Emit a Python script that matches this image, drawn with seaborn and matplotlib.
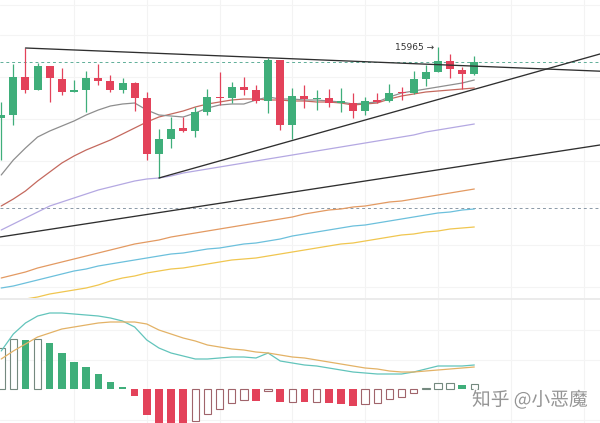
import numpy as np
import pandas as pd
import matplotlib
matplotlib.use("Agg")
import matplotlib.pyplot as plt
import matplotlib.patheffects as pe
import seaborn as sns

# ---------------- data ----------------
opens  = [15255, 15285, 15665, 15535, 15775, 15645, 15515, 15535, 15655, 15625,
          15535, 15605, 15455, 14895, 15045, 15155, 15125, 15315, 15465, 15455,
          15565, 15535, 15425, 15835, 15185, 15475, 15445, 15455, 15405, 15405,
          15325, 15435, 15425, 15515, 15505, 15645, 15715, 15825, 15735, 15695]
highs  = [15415, 15795, 15955, 15805, 15775, 15755, 15635, 15725, 15795, 15685,
          15655, 15615, 15515, 15145, 15265, 15265, 15365, 15545, 15715, 15615,
          15665, 15585, 15855, 15835, 15555, 15585, 15535, 15545, 15555, 15505,
          15465, 15505, 15595, 15565, 15725, 15785, 15965, 15895, 15765, 15875]
lows   = [14835, 15185, 15505, 15535, 15415, 15485, 15515, 15315, 15585, 15515,
          15505, 15325, 14835, 14655, 14955, 15115, 15065, 15285, 15385, 15405,
          15485, 15405, 15305, 15135, 15045, 15355, 15335, 15365, 15315, 15255,
          15285, 15405, 15415, 15435, 15495, 15575, 15715, 15655, 15545, 15685]
closes = [15285, 15665, 15535, 15775, 15655, 15515, 15535, 15655, 15625, 15535,
          15605, 15455, 14895, 15045, 15145, 15125, 15315, 15465, 15455, 15565,
          15535, 15425, 15835, 15185, 15475, 15445, 15455, 15405, 15425, 15325,
          15425, 15415, 15505, 15505, 15645, 15715, 15825, 15745, 15695, 15815]

ma_grey   = [14685, 14835, 14955, 15065, 15125, 15175, 15225, 15285, 15335, 15375,
             15395, 15405, 15335, 15285, 15275, 15265, 15305, 15355, 15385, 15395,
             15395, 15435, 15465, 15445, 15445, 15435, 15435, 15425, 15415, 15395,
             15405, 15415, 15465, 15505, 15525, 15545, 15565, 15585, 15605, 15635]
ma_red    = [14375, 14445, 14525, 14625, 14715, 14805, 14875, 14935, 14985, 15035,
             15095, 15155, 15215, 15265, 15295, 15325, 15365, 15395, 15415, 15435,
             15445, 15445, 15435, 15435, 15425, 15425, 15415, 15415, 15405, 15385,
             15395, 15405, 15445, 15475, 15495, 15515, 15525, 15535, 15545, 15555]
ma_purple = [14135, 14195, 14255, 14315, 14375, 14415, 14455, 14495, 14535, 14565,
             14595, 14625, 14645, 14655, 14675, 14705, 14725, 14745, 14765, 14785,
             14805, 14825, 14845, 14865, 14885, 14905, 14925, 14945, 14965, 14985,
             15005, 15025, 15045, 15065, 15085, 15115, 15135, 15155, 15175, 15195]
ma_orange = [13655, 13685, 13715, 13755, 13785, 13815, 13845, 13875, 13905, 13935,
             13965, 13995, 14015, 14035, 14065, 14085, 14105, 14125, 14145, 14165,
             14185, 14205, 14225, 14245, 14265, 14295, 14315, 14335, 14345, 14365,
             14375, 14395, 14415, 14425, 14445, 14465, 14485, 14505, 14525, 14545]
ma_blue   = [13555, 13575, 13605, 13635, 13665, 13695, 13725, 13745, 13775, 13795,
             13815, 13835, 13855, 13875, 13895, 13905, 13925, 13945, 13955, 13975,
             13995, 14005, 14025, 14045, 14075, 14095, 14115, 14135, 14155, 14175,
             14185, 14205, 14225, 14245, 14265, 14285, 14305, 14315, 14335, 14345]
ma_yellow = [13385, 13415, 13445, 13465, 13495, 13515, 13535, 13555, 13585, 13625,
             13655, 13675, 13705, 13725, 13745, 13755, 13775, 13795, 13815, 13835,
             13845, 13855, 13875, 13895, 13915, 13935, 13955, 13975, 13995, 14005,
             14025, 14045, 14065, 14085, 14095, 14115, 14125, 14145, 14155, 14165]

# trend lines (index, price) endpoints
trend_a_x, trend_a_y = [2, 50], [15955, 15720]
trend_b_x, trend_b_y = [13, 50], [14655, 15917]
trend_c_x, trend_c_y = [-0.1, 50], [14065, 14997]
level_high = 15815
level_low = 14355
peak_label = "15965 →"
peak_index, peak_price = 36, 15965

# MACD
dif = [76, 110, 132, 146, 152, 152, 150, 148, 146, 142,
       136, 124, 98, 82, 72, 66, 60, 60, 62, 64,
       64, 62, 72, 56, 52, 48, 46, 42, 38, 34,
       32, 30, 30, 30, 34, 40, 46, 46, 46, 48]
dea = [60, 76, 90, 104, 112, 120, 124, 128, 132, 134,
       134, 134, 130, 118, 110, 102, 96, 88, 84, 80,
       78, 74, 72, 68, 64, 62, 58, 54, 50, 46,
       42, 40, 36, 34, 34, 36, 38, 40, 42, 44]
hist = [82, 100, 98, 100, 92, 72, 54, 44, 30, 14,
        4, -14, -52, -70, -74, -76, -64, -50, -40, -28,
        -22, -24, -4, -26, -25, -26, -25, -28, -29, -34,
        -30, -28, -20, -16, -8, 2, 12, 13, 8, 10]

watermark = "知乎 @小恶魔"

# ---------------- style ----------------
sns.set_theme(style="white")
plt.rcParams["font.family"] = ["Noto Sans CJK SC", "DejaVu Sans"]

GREEN = "#3fae7a"
RED = "#e3425a"
idx = np.arange(len(opens))

fig = plt.figure(figsize=(6, 4.23), dpi=100)
fig.patch.set_facecolor("white")
ax = fig.add_axes([0, 125 / 423, 1, 298 / 423])
ax2 = fig.add_axes([0, 0, 1, 125 / 423])

XL = (-0.1, 49.36)
for a in (ax, ax2):
    a.set_xlim(*XL)
    a.set_facecolor("white")
    for s in a.spines.values():
        s.set_visible(False)
    a.set_xticks([])
    a.set_yticks([])
    for gx in range(6, 50, 6):
        a.axvline(gx, color="#f3f3f3", lw=0.8, zorder=0)

ax.set_ylim(13455, 16435)
ax2.set_ylim(-68, 182)

for gy in [16385, 16085, 15665, 15245, 14825, 14405, 13985, 13565]:
    ax.axhline(gy, color="#f4f4f4", lw=0.8, zorder=0)
for gy in [118, 58, -62]:
    ax2.axhline(gy, color="#f4f4f4", lw=0.8, zorder=0)
ax2.axhline(180, color="#ebebeb", lw=1.4, zorder=0)

# reference levels
ax.axhline(level_high, color="#5fae98", lw=0.7, ls=(0, (3, 3)), zorder=1)
ax.axhline(level_low, color="#8a98a6", lw=0.7, ls=(0, (3, 3)), zorder=1)

# moving averages
ma_styles = [
    (ma_yellow, "#f0c650"),
    (ma_blue, "#6cc0dc"),
    (ma_orange, "#e39a62"),
    (ma_purple, "#b4a8e2"),
    (ma_red, "#c4695e"),
    (ma_grey, "#8e8e8e"),
]
for vals, col in ma_styles:
    df = pd.DataFrame({"i": idx, "v": vals})
    sns.lineplot(data=df, x="i", y="v", ax=ax, color=col, lw=0.9, zorder=2)

# candles
for i in idx:
    o, h, l, c = opens[i], highs[i], lows[i], closes[i]
    col = GREEN if c >= o else RED
    ax.vlines(i, l, h, color=col, lw=0.9, zorder=3)
    bot = min(o, c)
    ht = max(abs(c - o), 10)
    ax.bar(i, ht, bottom=bot, width=0.66, color=col, lw=0, zorder=4)

# trend lines
for tx, ty in [(trend_a_x, trend_a_y), (trend_b_x, trend_b_y), (trend_c_x, trend_c_y)]:
    sns.lineplot(x=tx, y=ty, ax=ax, color="#2f2f2f", lw=0.95, zorder=5)

ax.text(peak_index - 0.3, peak_price, peak_label, ha="right", va="center",
        fontsize=6.5, color="#333333", family=["DejaVu Sans"], zorder=6)

# MACD histogram
prev = -1e9
for i, v in enumerate(hist):
    rising = v > prev
    base_col = GREEN if v >= 0 else RED
    if rising:
        edge = "#74897f" if v >= 0 else "#a0646b"
        ax2.bar(i, v, width=0.62, facecolor="white", edgecolor=edge, lw=0.8, zorder=3)
    else:
        ax2.bar(i, v, width=0.62, color=base_col, lw=0, zorder=3)
    prev = v

sns.lineplot(x=idx, y=dif, ax=ax2, color="#62c4bb", lw=0.9, zorder=4)
sns.lineplot(x=idx, y=dea, ax=ax2, color="#e3b266", lw=0.9, zorder=4)

for a in (ax, ax2):
    a.set_xlabel("")
    a.set_ylabel("")
    if a.get_legend() is not None:
        a.get_legend().remove()

fig.text(472 / 600, 1 - 400 / 423, watermark, ha="left", va="center",
         fontsize=13.5, color="#959595",
         path_effects=[pe.withStroke(linewidth=2, foreground="white")])

fig.savefig("out.png", dpi=100, facecolor="white")
